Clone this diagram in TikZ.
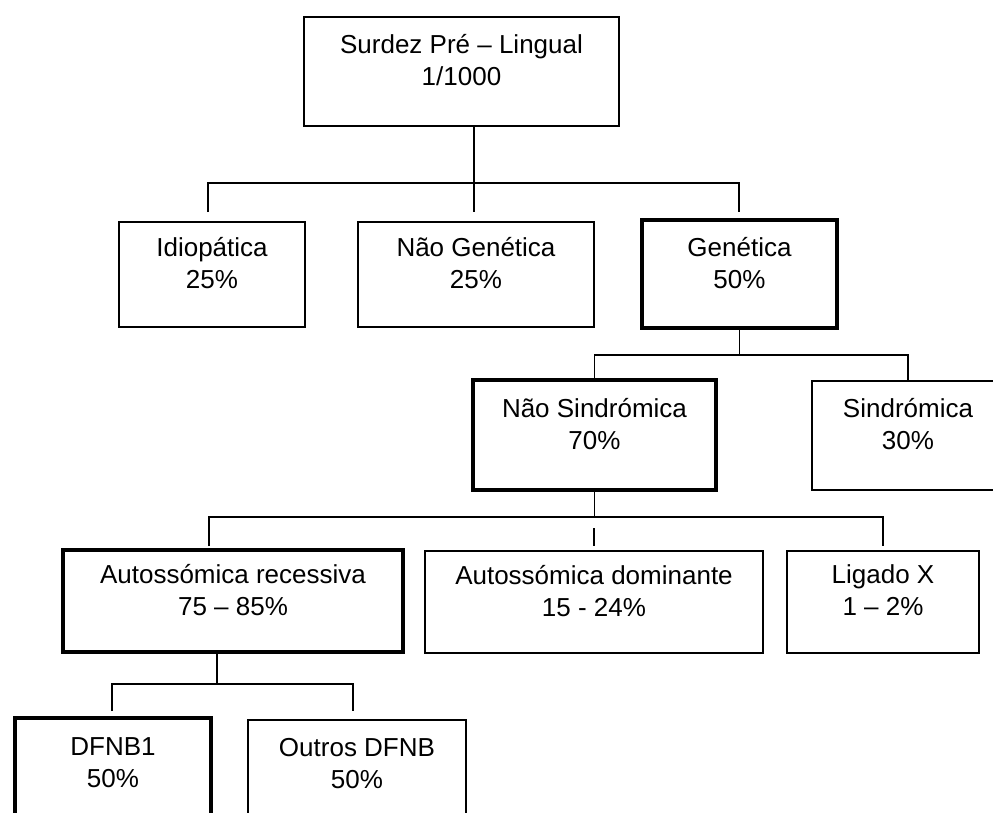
\documentclass[tikz,border=0pt]{standalone}
\usepackage{fontspec}
\setmainfont{Liberation Sans}

\tikzset{
  caixa/.style={draw=black, line width=1.6pt, align=center, inner sep=0pt,
    text depth=23pt, font=\fontsize{26}{32}\selectfont},
  caixaforte/.style={caixa, line width=4.5pt},
  fio/.style={draw=black, line width=1.6pt},
}

\begin{document}
\begin{tikzpicture}[x=1pt, y=-1pt]
  \useasboundingbox (0,0) rectangle (993,812);
  \clip (0,0) rectangle (993,812);

  % raiz
  \node[caixa, minimum width=315pt, minimum height=109pt] (root) at (461.5,71.5) {Surdez Pré – Lingual\\1/1000};

  % nivel 1
  \node[caixa, minimum width=186pt, minimum height=105pt] (idio) at (212,274.5) {Idiopática\\25\%};
  \node[caixa, minimum width=236pt, minimum height=105pt] (naogen) at (476,274.5) {Não Genética\\25\%};
  \node[caixaforte, minimum width=195pt, minimum height=108pt] (gen) at (739.5,274) {Genética\\50\%};

  % nivel 2
  \node[caixaforte, minimum width=243pt, minimum height=110pt] (naosind) at (594.5,435) {Não Sindrómica\\70\%};
  \node[caixa, minimum width=192pt, minimum height=109pt] (sind) at (908,435.5) {Sindrómica\\30\%};

  % nivel 3
  \node[caixaforte, minimum width=340pt, minimum height=102pt] (ar) at (233,601) {Autossómica recessiva\\75 – 85\%};
  \node[caixa, minimum width=338pt, minimum height=102pt] (ad) at (594,602) {Autossómica dominante\\15 - 24\%};
  \node[caixa, minimum width=192pt, minimum height=102pt] (lx) at (883,602) {Ligado X\\1 – 2\%};

  % nivel 4
  \node[caixaforte, minimum width=196pt, minimum height=112pt] (dfnb1) at (113,774) {DFNB1\\50\%};
  \node[caixa, minimum width=218pt, minimum height=110pt] (outros) at (357,775) {Outros DFNB\\50\%};

  % ligacoes
  \coordinate (bus1) at (474,183);
  \coordinate (p1) at (208,212);
  \coordinate (p2) at (474,212);
  \coordinate (p3) at (739,212);
  \draw[fio] (root.south -| bus1) -- (p2);
  \draw[fio] (p1) |- (bus1) -| (p3);

  \coordinate (bus2) at (739,355);
  \draw[fio] (gen.south) -- (gen.south |- bus2);
  \draw[fio] (naosind.north) |- (bus2) -| (sind.north);

  \coordinate (bus3) at (594,517);
  \coordinate (q1) at (209,546);
  \coordinate (q2a) at (594,528);
  \coordinate (q2b) at (594,546);
  \coordinate (q3) at (883,546);
  \draw[fio] (naosind.south) -- (naosind.south |- bus3);
  \draw[fio] (q1) |- (bus3) -| (q3);
  \draw[fio] (q2a) -- (q2b);

  \coordinate (bus4) at (217,684);
  \coordinate (s1) at (112,711);
  \coordinate (s2) at (353,711);
  \draw[fio] (ar.south -| bus4) -- (bus4);
  \draw[fio] (s1) |- (bus4) -| (s2);
\end{tikzpicture}
\end{document}
